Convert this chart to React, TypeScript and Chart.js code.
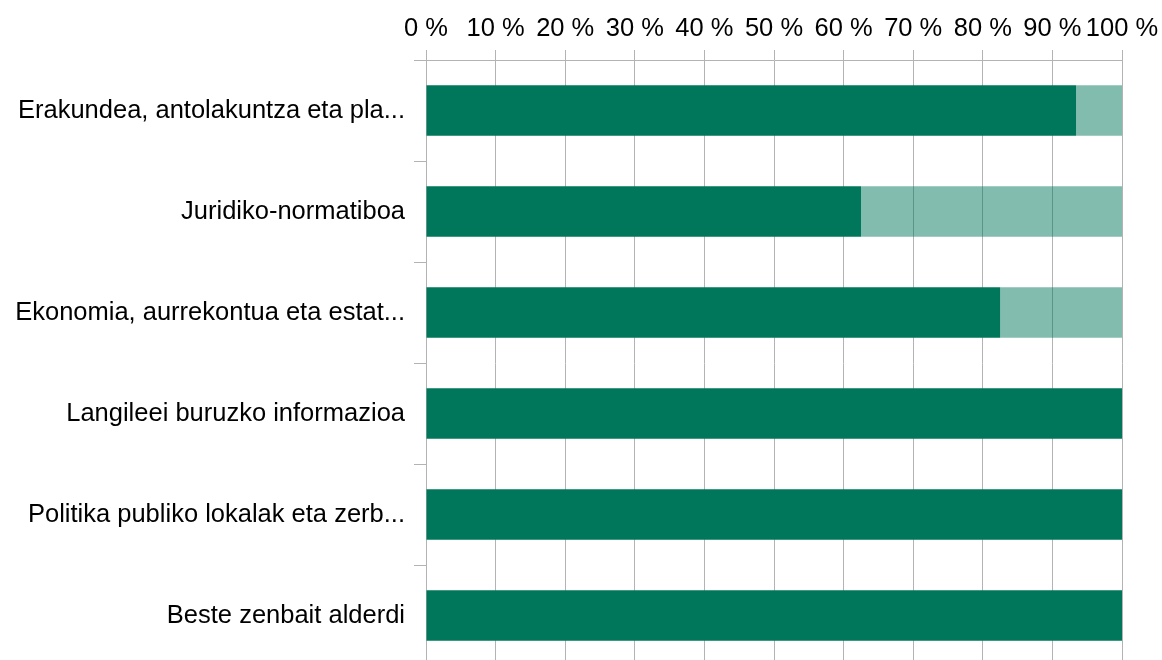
import React, { useEffect, useRef } from "react";
import { Chart, registerables } from "chart.js";

Chart.register(...registerables);

const categories = [
  "Erakundea, antolakuntza eta pla...",
  "Juridiko-normatiboa",
  "Ekonomia, aurrekontua eta estat...",
  "Langileei buruzko informazioa",
  "Politika publiko lokalak eta zerb...",
  "Beste zenbait alderdi",
];
const seriesA = [93.4, 62.5, 82.5, 100, 100, 100];
const seriesB = [6.6, 37.5, 17.5, 0, 0, 0];
const xTicks = [0, 10, 20, 30, 40, 50, 60, 70, 80, 90, 100];

export default function App() {
  const ref = useRef<HTMLCanvasElement | null>(null);
  useEffect(() => {
    document.body.style.margin = "0";
    const ctx = ref.current!;
    const font = { family: "'Liberation Sans', Arial, sans-serif", size: 25.5 };
    const chart = new Chart(ctx, {
      type: "bar",
      data: {
        labels: categories,
        datasets: [
          {
            label: "A",
            data: seriesA,
            backgroundColor: "rgb(0,119,90)",
            barPercentage: 0.5,
            categoryPercentage: 1,
          },
          {
            label: "B",
            data: seriesB,
            backgroundColor: "rgba(0,119,90,0.49)",
            barPercentage: 0.5,
            categoryPercentage: 1,
          },
        ],
      },
      options: {
        indexAxis: "y",
        responsive: false,
        animation: false,
        layout: { padding: 0 },
        plugins: { legend: { display: false }, tooltip: { enabled: false } },
        scales: {
          x: {
            position: "top",
            stacked: true,
            min: 0,
            max: 100,
            afterBuildTicks: (s: any) => {
              s.ticks = xTicks.map((v) => ({ value: v }));
            },
            afterFit: (s: any) => {
              s.height = 60;
              s.paddingRight = 40;
              s.paddingLeft = 0;
            },
            ticks: {
              color: "#000",
              font,
              padding: 6,
              maxRotation: 0,
              autoSkip: false,
              callback: (v: any) => v + " %",
            },
            grid: { color: "#b3b3b3", tickLength: 10, lineWidth: 1 },
            border: { color: "#b3b3b3" },
          },
          y: {
            stacked: true,
            afterFit: (s: any) => {
              s.width = 426;
              s.paddingTop = 0;
              s.paddingBottom = 0;
            },
            ticks: { color: "#000", font, padding: 9 },
            grid: {
              color: "#b3b3b3",
              drawOnChartArea: false,
              tickLength: 12,
              offset: true,
            },
            border: { color: "#b3b3b3" },
          },
        },
      },
    });
    return () => chart.destroy();
  }, []);
  return (
    <div
      style={{
        position: "fixed",
        top: 0,
        left: 0,
        width: 1162,
        height: 660,
        overflow: "hidden",
        background: "#fff",
      }}
    >
      <canvas ref={ref} width={1162} height={666} style={{ display: "block" }} />
    </div>
  );
}
